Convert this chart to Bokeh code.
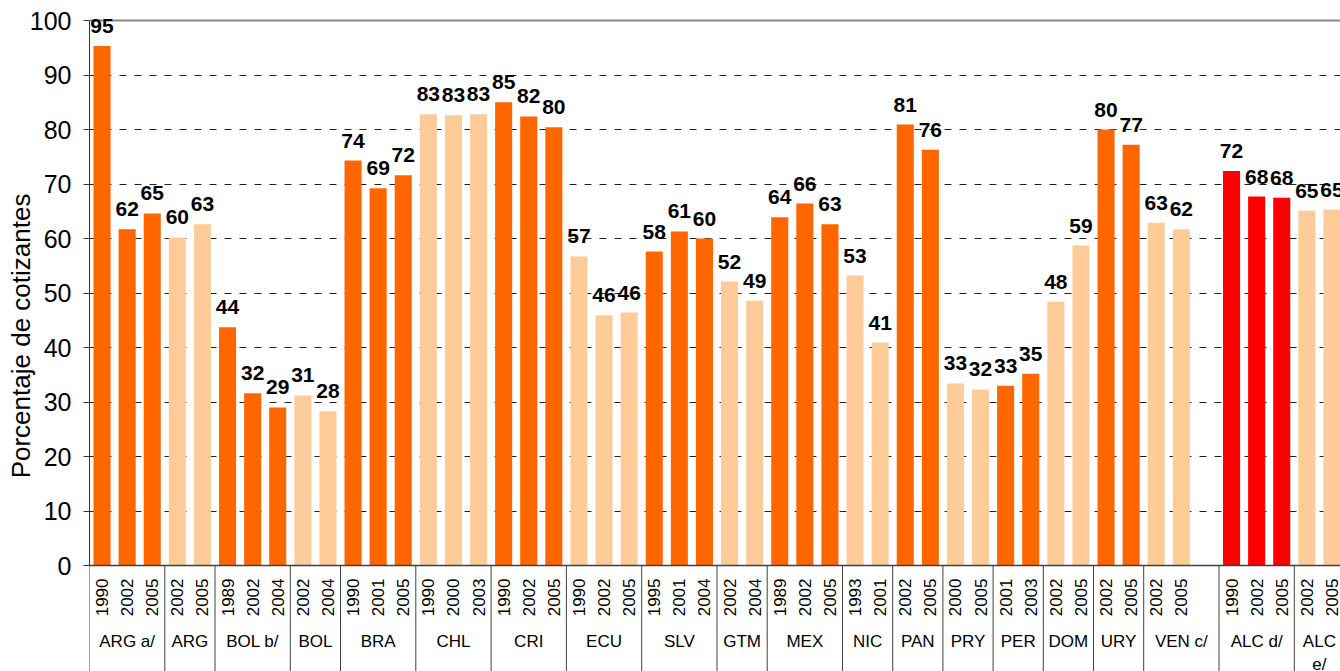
import numpy as np
from bokeh.plotting import figure
from bokeh.models import Range1d, FixedTicker, Span
from bokeh.embed import file_html
from bokeh.resources import INLINE
from bokeh.core.properties import value

# ---------------- data ----------------
groups = ["ARG a/", "ARG", "BOL b/", "BOL", "BRA", "CHL", "CRI", "ECU", "SLV", "GTM",
          "MEX", "NIC", "PAN", "PRY", "PER", "DOM", "URY", "VEN c/", "ALC d/", "ALC e/"]
years = [
    [1990, 2002, 2005], [2002, 2005], [1989, 2002, 2004], [2002, 2004],
    [1990, 2001, 2005], [1990, 2000, 2003], [1990, 2002, 2005], [1990, 2002, 2005],
    [1995, 2001, 2004], [2002, 2004], [1989, 2002, 2005], [1993, 2001],
    [2002, 2005], [2000, 2005], [2001, 2003], [2002, 2005], [2002, 2005],
    [2002, 2005], [1990, 2002, 2005], [2002, 2005],
]
values = [
    [95.3, 61.7, 64.6], [60.2, 62.6], [43.7, 31.6, 29.0], [31.2, 28.3],
    [74.3, 69.2, 71.6], [82.8, 82.6, 82.8], [85.0, 82.4, 80.4], [56.7, 45.9, 46.4],
    [57.6, 61.3, 60.0], [52.1, 48.6], [63.9, 66.4, 62.6], [53.2, 40.9],
    [80.9, 76.3], [33.4, 32.3], [33.0, 35.2], [48.4, 58.7], [80.0, 77.2],
    [62.9, 61.7], [72.4, 67.7, 67.5], [65.1, 65.3],
]
y_label = "Porcentaje de cotizantes"
y_ticks = list(range(0, 101, 10))

# ---------------- styles ----------------
DARK, LIGHT, RED = "#FF6600", "#FFCC99", "#FF0000"
group_color = {
    "ARG a/": DARK, "ARG": LIGHT, "BOL b/": DARK, "BOL": LIGHT, "BRA": DARK,
    "CHL": LIGHT, "CRI": DARK, "ECU": LIGHT, "SLV": DARK, "GTM": LIGHT,
    "MEX": DARK, "NIC": LIGHT, "PAN": DARK, "PRY": LIGHT, "PER": DARK,
    "DOM": LIGHT, "URY": DARK, "VEN c/": LIGHT, "ALC d/": RED, "ALC e/": LIGHT,
}
gap_after = {"VEN c/": 1}
FONT = value("Liberation Sans")

xs, tops, cols, yr_txt, val_txt = [], [], [], [], []
bounds, centers, glabels = [0], [], []
slot = 0
for g, ys, vs in zip(groups, years, values):
    start = slot
    for yv, v in zip(ys, vs):
        xs.append(slot + 0.5)
        tops.append(v)
        cols.append(group_color[g])
        yr_txt.append(str(yv))
        val_txt.append(str(int(v + 0.5)))
        slot += 1
    slot += gap_after.get(g, 0)
    bounds.append(slot)
    centers.append((start + slot) / 2)
    lab = g
    if slot - start == 2 and len(g) > 4:
        lab = g.replace(" ", "\n")
    glabels.append(lab)

W, H = 1340, 671
left, top100 = 89, 20          # pixel position of axis line and of the 100 line
px_per_unit = 5.45
slot_px = 25.1
y_max = 100 + top100 / px_per_unit
y_min = 100 - (H - top100) / px_per_unit
x_max = (W - left) / slot_px

p = figure(width=W, height=H,
           x_range=Range1d(0, x_max), y_range=Range1d(y_min, y_max),
           output_backend="svg", toolbar_location=None, x_axis_location=None,
           min_border_left=left, min_border_top=0, min_border_bottom=0, min_border_right=0)
p.outline_line_color = None
p.background_fill_color = "white"
p.xgrid.visible = False
p.ygrid.ticker = FixedTicker(ticks=y_ticks[1:-1])
p.ygrid.grid_line_color = "#222222"
p.ygrid.grid_line_dash = "7 8"
p.ygrid.grid_line_width = 1

ax = p.yaxis[0]
ax.bounds = (0, 100)
ax.ticker = FixedTicker(ticks=y_ticks)
ax.major_label_text_font = "Liberation Sans"
ax.major_label_text_font_size = "25px"
ax.major_label_text_color = "#000000"
ax.major_tick_out = 6
ax.major_tick_in = 0
ax.minor_tick_out = 0
ax.minor_tick_in = 0
ax.major_tick_line_color = "#333333"
ax.axis_line_color = "#333333"
ax.major_label_standoff = 12
ax.axis_label = y_label
ax.axis_label_text_font = "Liberation Sans"
ax.axis_label_text_font_style = "normal"
ax.axis_label_text_font_size = "26px"
ax.axis_label_text_color = "#000000"
ax.axis_label_standoff = -9

# top border line (under the labels)
p.add_layout(Span(location=100, dimension="width", line_color="#888888", line_width=2,
                  level="underlay"))

p.vbar(x=xs, top=tops, bottom=0, width=0.68, fill_color=cols, line_color=None)

# zero line
p.add_layout(Span(location=0, dimension="width", line_color="#404040", line_width=1.5))

# group separators
p.segment(x0=bounds, y0=[0] * len(bounds), x1=bounds, y1=[y_min] * len(bounds),
          line_color="#404040", line_width=1)

# value labels
p.text(x=xs, y=tops, text=val_txt, text_align="center", text_baseline="alphabetic",
       y_offset=-20, text_font=FONT, text_font_size="21px", text_font_style="bold",
       text_color="#000000")

# year labels
p.text(x=xs, y=[0] * len(xs), text=yr_txt, angle=np.pi / 2, text_align="right",
       text_baseline="middle", y_offset=13, text_font=FONT, text_font_size="17px",
       text_color="#000000")

# group labels
p.text(x=centers, y=[0] * len(centers), text=glabels, text_align="center",
       text_baseline="top", y_offset=66, text_font=FONT, text_font_size="17px",
       text_color="#000000", text_line_height=1.25)

open("out.html", "w").write(file_html(p, INLINE))
